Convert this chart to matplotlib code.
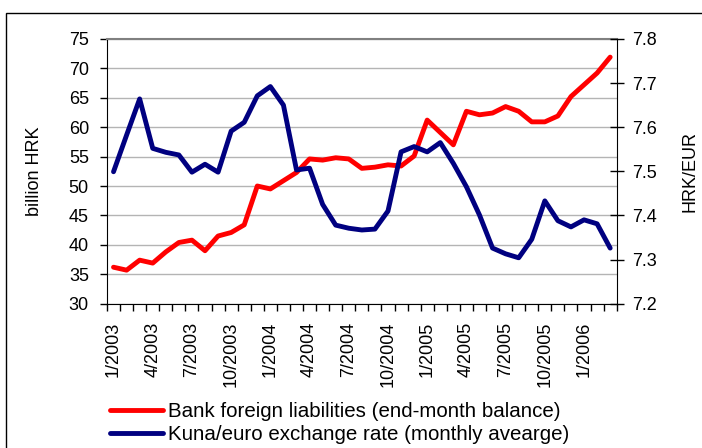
import matplotlib
matplotlib.use('Agg')
from matplotlib import pyplot as plt
from matplotlib.patches import Rectangle

plt.rcParams['font.family'] = ['Liberation Sans', 'DejaVu Sans']
plt.rcParams['font.size'] = 13

# monthly categories 1/2003 .. 3/2006
months = [f'{m}/{y}' for y in (2003, 2004, 2005, 2006) for m in range(1, 13)][:39]
tick_labels = months[::3]

# billion HRK, end-month balance
liabilities = [36.2, 35.7, 37.4, 36.9, 38.8, 40.4, 40.8, 39.0, 41.5, 42.1,
               43.4, 50.0, 49.5, 50.9, 52.3, 54.6, 54.4, 54.8, 54.6, 53.0,
               53.2, 53.6, 53.4, 55.1, 61.2, 59.1, 57.0, 62.7, 62.1, 62.4,
               63.5, 62.7, 60.9, 60.9, 61.9, 65.2, 67.2, 69.2, 71.9]
# HRK/EUR, monthly average
exchange = [7.499, 7.582, 7.664, 7.552, 7.543, 7.537, 7.498, 7.516, 7.498, 7.591,
            7.611, 7.671, 7.692, 7.650, 7.503, 7.507, 7.425, 7.378, 7.371, 7.367,
            7.369, 7.410, 7.544, 7.556, 7.544, 7.565, 7.518, 7.465, 7.401, 7.326,
            7.313, 7.304, 7.346, 7.433, 7.388, 7.374, 7.390, 7.381, 7.326]

left_ticks = list(range(30, 80, 5))
right_ticks = [7.2, 7.3, 7.4, 7.5, 7.6, 7.7, 7.8]


def main():
	fig = plt.figure(figsize=(7.02, 4.48), dpi=100)
	ax = fig.add_axes([0.1524, 0.3221, 0.7261, 0.5911])
	x = list(range(len(months)))

	l1, = ax.plot(x, liabilities, color='#ff0000', lw=3.5,
		solid_capstyle='round', solid_joinstyle='round')
	ax2 = ax.twinx()
	l2, = ax2.plot(x, exchange, color='#000080', lw=3.5,
		solid_capstyle='round', solid_joinstyle='round')

	ax.set_xlim(-0.5, len(months) - 0.5)
	ax.set_ylim(30, 75)
	ax2.set_ylim(7.2, 7.8)

	ax.set_yticks(left_ticks)
	ax2.set_yticks(right_ticks)
	ax2.set_yticklabels([f'{v:.1f}' for v in right_ticks])

	ax.set_xticks(x[::3])
	ax.set_xticklabels(tick_labels, rotation=90)
	ax.set_xticks([i - 0.5 for i in range(len(months) + 1)], minor=True)
	ax.tick_params(axis='x', which='major', length=0, pad=13)
	ax.tick_params(axis='x', which='minor', length=5, width=1, direction='out')
	ax.tick_params(axis='y', length=5, width=1, direction='out', pad=8)
	ax2.tick_params(axis='y', length=10, width=1, direction='inout', pad=6)

	# grid
	ax.set_axisbelow(True)
	ax.yaxis.grid(True, color='#b4b4b4', lw=1)

	for s in ('top', 'right'):
		ax.spines[s].set_visible(False)
	for s in ('top', 'left', 'bottom'):
		ax2.spines[s].set_visible(False)
	ax.spines['top'].set_visible(True)
	ax.spines['top'].set_color('#808080')
	ax.spines['top'].set_linewidth(1.5)

	ax.set_ylabel('billion HRK')
	ax.yaxis.set_label_coords(-0.126, 0.5)
	ax2.set_ylabel('HRK/EUR')
	ax2.yaxis.set_label_coords(1.127, 0.5)

	fig.legend([l1, l2],
		['Bank foreign liabilities (end-month balance)',
		 'Kuna/euro exchange rate (monthly avearge)'],
		loc='upper left', bbox_to_anchor=(0.1567, 0.102), frameon=False,
		fontsize=14.8, handlelength=2.6, handletextpad=0.22, labelspacing=0.2,
		borderpad=0, borderaxespad=0)

	# outer frame (cut off at right and bottom)
	fig.add_artist(Rectangle((6 / 702, -0.1), 1.2, 1 - 13.5 / 448 + 0.1,
		fill=False, lw=1, edgecolor='black', transform=fig.transFigure))

	plt.savefig('out.png', dpi=100)

if __name__ == "__main__":
	main()
